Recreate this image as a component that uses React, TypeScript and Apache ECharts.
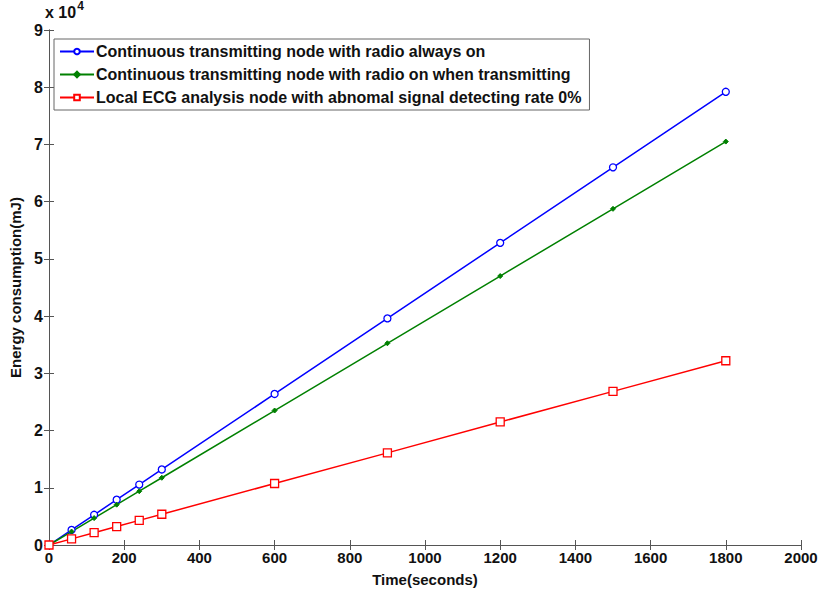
import React, { useEffect, useRef } from "react";
import * as echarts from "echarts";

const times = [0, 60, 120, 180, 240, 300, 600, 900, 1200, 1500, 1800];
const alwaysOn = [0, 2640, 5280, 7920, 10560, 13200, 26400, 39600, 52800, 66000, 79200];
const onWhenTx = [0, 2350, 4700, 7050, 9400, 11750, 23500, 35250, 47000, 58750, 70500];
const localEcg = [0, 1070, 2150, 3220, 4300, 5370, 10750, 16100, 21500, 26850, 32200];
const seriesNames = [
  "Continuous transmitting node with radio always on",
  "Continuous transmitting node with radio on when transmitting",
  "Local ECG analysis node with abnomal signal detecting rate 0%",
];

const FONT = "'Liberation Sans', Arial, sans-serif";
const AX = "#555";

export default function App() {
  const ref = useRef<HTMLDivElement>(null);
  useEffect(() => {
    const chart = echarts.init(ref.current!, undefined, { renderer: "svg" });
    const pair = (ys: number[]) => times.map((t, i) => [t, ys[i]]);
    const axisCommon = {
      axisLine: { show: true, lineStyle: { color: AX, width: 1 } },
      axisTick: { show: true, inside: true, length: 5, lineStyle: { color: AX } },
      splitLine: { show: false },
    };
    chart.setOption({
      animation: false,
      backgroundColor: "#fff",
      textStyle: { fontFamily: FONT },
      grid: { left: 44, right: 21, top: 30, bottom: 47, containLabel: false },
      legend: {
        orient: "vertical",
        left: 54,
        top: 39,
        padding: [3, 8, 3, 5],
        itemGap: 4,
        itemWidth: 34,
        itemHeight: 7,
        borderColor: "#666",
        borderWidth: 1,
        backgroundColor: "#fff",
        textStyle: { fontFamily: FONT, fontWeight: "bold", fontSize: 16, lineHeight: 19, color: "#111", padding: [0, 0, 0, -3] },
        data: seriesNames,
      },
      graphic: [
        {
          type: "text",
          left: 45,
          top: 0,
          style: {
            text: "{a|x 10}{b|4}",
            rich: {
              a: { fontFamily: FONT, fontWeight: "bold", fontSize: 16, lineHeight: 20, fill: "#111", verticalAlign: "bottom", padding: [4, 0, 0, 0] },
              b: { fontFamily: FONT, fontWeight: "bold", fontSize: 12, fill: "#111", verticalAlign: "top", padding: [0, 0, 8, 1] },
            },
          },
        },
      ],
      xAxis: [
        {
          type: "value",
          min: 0,
          max: 2000,
          interval: 200,
          name: "Time(seconds)",
          nameLocation: "middle",
          nameGap: 27,
          nameTextStyle: { fontFamily: FONT, fontWeight: "bold", fontSize: 15, color: "#111" },
          axisLabel: {
            fontFamily: FONT,
            fontWeight: "bold",
            fontSize: 15,
            color: "#111",
            margin: 5,
            formatter: (v: number) => String(v),
          },
          ...axisCommon,
        },
        {
          type: "value",
          position: "top",
          min: 0,
          max: 2000,
          interval: 200,
          axisLabel: { show: false },
          ...axisCommon,
        },
      ],
      yAxis: [
        {
          type: "value",
          min: 0,
          max: 90000,
          interval: 10000,
          name: "Energy consumption(mJ)",
          nameLocation: "middle",
          nameGap: 26,
          nameTextStyle: { fontFamily: FONT, fontWeight: "bold", fontSize: 15, color: "#111" },
          axisLabel: {
            fontFamily: FONT,
            fontWeight: "bold",
            fontSize: 16,
            color: "#111",
            margin: 6,
            formatter: (v: number) => String(v / 10000),
          },
          ...axisCommon,
        },
        {
          type: "value",
          position: "right",
          min: 0,
          max: 90000,
          interval: 10000,
          axisLabel: { show: false },
          ...axisCommon,
        },
      ],
      series: [
        {
          name: seriesNames[0],
          type: "line",
          data: pair(alwaysOn),
          color: "#0000ff",
          lineStyle: { width: 1.5, color: "#0000ff" },
          symbol: "circle",
          symbolSize: 7,
          showAllSymbol: true,
          itemStyle: { color: "#fff", borderColor: "#0000ff", borderWidth: 1.3 },
          z: 3,
        },
        {
          name: seriesNames[1],
          type: "line",
          data: pair(onWhenTx),
          color: "#008000",
          lineStyle: { width: 1.5, color: "#008000" },
          symbol: "diamond",
          symbolSize: 5,
          showAllSymbol: true,
          itemStyle: { color: "#008000", borderColor: "#008000", borderWidth: 1 },
          z: 3,
        },
        {
          name: seriesNames[2],
          type: "line",
          data: pair(localEcg),
          color: "#ff0000",
          lineStyle: { width: 1.5, color: "#ff0000" },
          symbol: "rect",
          symbolSize: 8,
          showAllSymbol: true,
          itemStyle: { color: "#fff", borderColor: "#ff0000", borderWidth: 1.3 },
          z: 3,
        },
      ],
    });
    return () => chart.dispose();
  }, []);
  return <div ref={ref} style={{ width: 822, height: 592, position: "absolute", left: 0, top: 0 }} />;
}
